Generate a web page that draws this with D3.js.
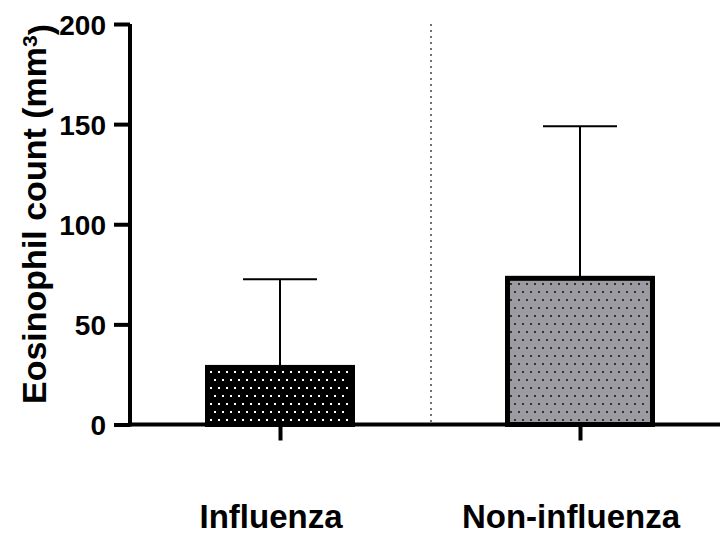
<!DOCTYPE html>
<html>
<head>
<meta charset="utf-8">
<script src="https://cdn.jsdelivr.net/npm/d3@7"></script>
<style>
  body { margin: 0; background: #fff; }
  svg text { font-family: "Liberation Sans", Arial, Helvetica, sans-serif; font-weight: bold; fill: #000; }
</style>
</head>
<body>
<script>
// ---------------- data ----------------
var categories = ["Influenza", "Non-influenza"];
var meanValues = [28.5, 73];
var errValues = [44, 76];
var yTicks = [0, 50, 100, 150, 200];

var width = 720, height = 536;

var svg = d3.select("body")
  .append("svg")
  .attr("width", width)
  .attr("height", height);

// ---------------- scales ----------------
var x = d3.scalePoint()
  .domain(categories)
  .range([130, 730])
  .padding(0.5);

var y = d3.scaleLinear()
  .domain([0, 200])
  .range([424.5, 24]);

var barWidth = 150;

// ---------------- patterns ----------------
var defs = svg.append("defs");

// black with white dots (staggered rows)
var p1 = defs.append("pattern")
  .attr("id", "dotsWhite")
  .attr("patternUnits", "userSpaceOnUse")
  .attr("width", 8)
  .attr("height", 16)
  .attr("x", 0)
  .attr("y", 0);
p1.append("rect").attr("width", 8).attr("height", 16).attr("fill", "#000");
p1.append("rect").attr("x", 2).attr("y", 3).attr("width", 2).attr("height", 2).attr("fill", "#fff");
p1.append("rect").attr("x", 6).attr("y", 11).attr("width", 2).attr("height", 2).attr("fill", "#fff");

// grey with dark dots
var p2 = defs.append("pattern")
  .attr("id", "dotsGrey")
  .attr("patternUnits", "userSpaceOnUse")
  .attr("width", 8)
  .attr("height", 16)
  .attr("x", 0)
  .attr("y", 0);
p2.append("rect").attr("width", 8).attr("height", 16).attr("fill", "#9c9ba1");
p2.append("rect").attr("x", 2).attr("y", 3).attr("width", 2).attr("height", 2).attr("fill", "#333");
p2.append("rect").attr("x", 6).attr("y", 11).attr("width", 2).attr("height", 2).attr("fill", "#333");

var fills = ["url(#dotsWhite)", "url(#dotsGrey)"];

// ---------------- separator ----------------
svg.append("line")
  .attr("x1", 431).attr("x2", 431)
  .attr("y1", y(200)).attr("y2", y(0))
  .attr("stroke", "#444")
  .attr("stroke-width", 1.5)
  .attr("stroke-dasharray", "2,4");

// ---------------- error bars ----------------
var groups = categories.map(function(c, i) {
  return { cat: c, mean: meanValues[i], err: errValues[i], fill: fills[i] };
});

svg.selectAll(".err-line")
  .data(groups)
  .enter().append("line")
  .attr("class", "err-line")
  .attr("x1", function(d) { return x(d.cat); })
  .attr("x2", function(d) { return x(d.cat); })
  .attr("y1", function(d) { return y(d.mean); })
  .attr("y2", function(d) { return y(d.mean + d.err); })
  .attr("stroke", "#000")
  .attr("stroke-width", 2);

svg.selectAll(".err-cap")
  .data(groups)
  .enter().append("line")
  .attr("class", "err-cap")
  .attr("x1", function(d) { return x(d.cat) - 37; })
  .attr("x2", function(d) { return x(d.cat) + 37; })
  .attr("y1", function(d) { return y(d.mean + d.err); })
  .attr("y2", function(d) { return y(d.mean + d.err); })
  .attr("stroke", "#000")
  .attr("stroke-width", 2);

// ---------------- bars ----------------
svg.selectAll(".bar")
  .data(groups)
  .enter().append("rect")
  .attr("class", "bar")
  .attr("x", function(d) { return x(d.cat) - barWidth / 2 + 2.5; })
  .attr("y", function(d) { return y(d.mean); })
  .attr("width", barWidth - 5)
  .attr("height", function(d) { return y(0) - y(d.mean); })
  .attr("fill", function(d) { return d.fill; })
  .attr("stroke", "#000")
  .attr("stroke-width", 5);

// ---------------- axes ----------------
var yAxis = svg.append("g")
  .attr("transform", "translate(130,0)")
  .call(d3.axisLeft(y).tickValues(yTicks).tickSize(16).tickPadding(8).tickSizeOuter(0));
yAxis.select(".domain").attr("stroke", "#000").attr("stroke-width", 4).attr("d", "M0," + (y(0) + 2) + "V" + y(200));
yAxis.selectAll(".tick line").attr("stroke", "#000").attr("stroke-width", 4);
yAxis.selectAll(".tick text")
  .style("font-size", "28px")
  .style("font-family", "Liberation Sans, Arial, sans-serif")
  .style("font-weight", "bold")
  .attr("dy", "0.36em");

var xAxis = svg.append("g")
  .attr("transform", "translate(0," + y(0) + ")")
  .call(d3.axisBottom(x).tickSize(16).tickFormat("").tickSizeOuter(0));
xAxis.select(".domain").attr("stroke", "#000").attr("stroke-width", 4).attr("d", "M128,0H720");
xAxis.selectAll(".tick line").attr("stroke", "#000").attr("stroke-width", 4);

// category labels
svg.selectAll(".cat-label")
  .data(categories)
  .enter().append("text")
  .attr("class", "cat-label")
  .attr("x", function(d) { return x(d) - 9; })
  .attr("y", 528)
  .attr("text-anchor", "middle")
  .style("font-size", "33px")
  .text(function(d) { return d; });

// y axis title
var title = svg.append("text")
  .attr("transform", "translate(46,214) rotate(-90)")
  .attr("text-anchor", "middle")
  .style("font-size", "34px");
title.append("tspan").text("Eosinophil count (mm");
title.append("tspan").attr("dy", "-0.45em").style("font-size", "21px").text("3");
title.append("tspan").attr("dy", "0.45em").text(")");
</script>
</body>
</html>
